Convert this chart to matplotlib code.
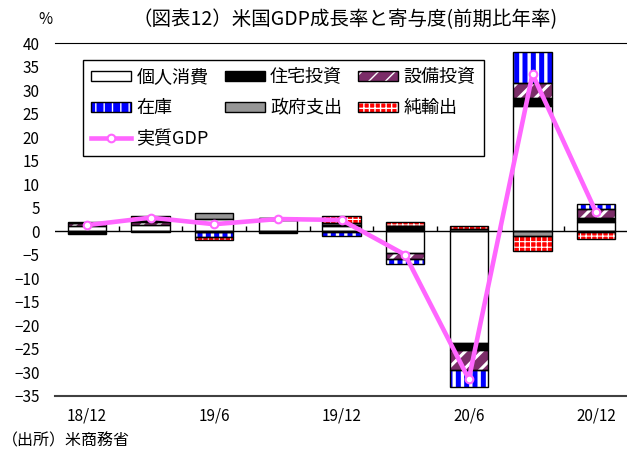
import numpy as np
import matplotlib
matplotlib.use("Agg")
import matplotlib.pyplot as plt
from matplotlib.patches import Patch

plt.rcParams['font.family'] = ['Noto Sans CJK JP', 'DejaVu Sans']

# 四半期と寄与度(前期比年率、%)
quarters = ['18/12', '19/3', '19/6', '19/9', '19/12', '20/3', '20/6', '20/9', '20/12']
tick_labels = ['18/12', '', '19/6', '', '19/12', '', '20/6', '', '20/12']
pce    = [1.2, 1.3, 2.7, 2.3, 1.2, -4.7, -23.8, 26.7, 1.9]
resid  = [-0.4, -0.2, -0.1, 0.2, 0.2, 1.1, -1.4, 1.6, 1.0]
nonres = [0.5, 0.6, -0.1, -0.2, -0.1, -1.1, -4.2, 3.1, 1.8]
inv    = [0.1, 0.3, -1.0, -0.1, -1.0, -1.2, -3.6, 6.6, 1.1]
gov    = [0.2, 0.5, 1.2, 0.4, 0.4, 0.1, 0.4, -0.9, -0.2]
netexp = [-0.1, 0.5, -0.7, 0.0, 1.5, 0.7, 0.7, -3.2, -1.5]
gdp    = [1.3, 2.9, 1.5, 2.6, 2.4, -5.0, -31.4, 33.4, 4.0]

# 系列: (名前, 値, 塗り, ハッチ, ハッチ線幅)
series = [
    ('個人消費', pce, 'white', None, 1.0),
    ('住宅投資', resid, 'black', None, 1.0),
    ('設備投資', nonres, '#7B2D68', '//', 2.2),
    ('在庫', inv, '#0000FF', '||', 2.4),
    ('政府支出', gov, '#969696', None, 1.0),
    ('純輸出', netexp, '#FF0000', '+++', 0.8),
]

fig = plt.figure(figsize=(6.27, 4.51), dpi=100)
ax = fig.add_axes([55 / 627, 1 - 396 / 451, 573 / 627, 353 / 451])

x = np.arange(len(quarters))
width = 0.6
pos_base = np.zeros(len(x))
neg_base = np.zeros(len(x))
handles = {}

for name, vals, face, hatch, hlw in series:
    vals = np.array(vals)
    bottoms = np.where(vals >= 0, pos_base, neg_base)
    fill = ax.bar(x, vals, width, bottom=bottoms, color=face, hatch=hatch,
                  edgecolor='white', linewidth=0, zorder=2)
    for p in fill:
        if hasattr(p, 'set_hatch_linewidth'):
            p.set_hatch_linewidth(hlw)
    ax.bar(x, vals, width, bottom=bottoms, fill=False, edgecolor='black',
           linewidth=1.0, zorder=3)
    pos_base = pos_base + np.where(vals >= 0, vals, 0)
    neg_base = neg_base + np.where(vals < 0, vals, 0)

    hp = Patch(facecolor=face, hatch=hatch, edgecolor='white', linewidth=0)
    if hasattr(hp, 'set_hatch_linewidth'):
        hp.set_hatch_linewidth(hlw)
    handles[name] = (hp, Patch(fill=False, edgecolor='black', linewidth=1.0))

line, = ax.plot(x, gdp, color='#FF66FF', lw=3.3, marker='o', markersize=5.5,
                markerfacecolor='white', markeredgecolor='#FF66FF',
                markeredgewidth=1.5, zorder=5)
handles['実質GDP'] = line

# ゼロ線と目盛り
ax.axhline(0, color='black', lw=1, zorder=4)
ax.vlines(x[:-1] + 0.5, 0, 1.2, color='black', lw=1, zorder=4)

ax.set_xlim(-0.5, len(x) - 0.5)
ax.set_ylim(-35, 40)
ax.set_yticks(np.arange(-35, 41, 5))
ax.set_xticks(x)
ax.set_xticklabels(tick_labels)
ax.tick_params(axis='x', length=0, pad=8, labelsize=11)
ax.tick_params(axis='y', length=0, pad=11, labelsize=11)

for s in ['left', 'right']:
    ax.spines[s].set_visible(False)
ax.spines['top'].set_color('black')
ax.spines['bottom'].set_color('#404040')
ax.spines['bottom'].set_linewidth(1.5)

order = ['個人消費', '在庫', '実質GDP', '住宅投資', '政府支出', '設備投資', '純輸出']
leg = ax.legend([handles[k] for k in order], order, ncol=3,
                loc='upper left', bbox_to_anchor=(83 / 627, 1 - 60 / 451),
                bbox_transform=fig.transFigure, borderaxespad=0,
                fontsize=13, handlelength=2.2, handleheight=0.5,
                handletextpad=0.3, columnspacing=0.9, labelspacing=0.72,
                borderpad=0.45, fancybox=False, framealpha=1)
leg.get_frame().set_edgecolor('black')
leg.get_frame().set_linewidth(1.0)

fig.text(345 / 627, 1 - 20 / 451, '（図表12）米国GDP成長率と寄与度(前期比年率)',
         ha='center', va='center', fontsize=14)
fig.text(45 / 627, 1 - 20 / 451, '%', ha='center', va='center', fontsize=11)
fig.text(2 / 627, 1 - 441 / 451, '（出所）米商務省', ha='left', va='center',
         fontsize=11.5)

fig.savefig('out.png', dpi=100)
